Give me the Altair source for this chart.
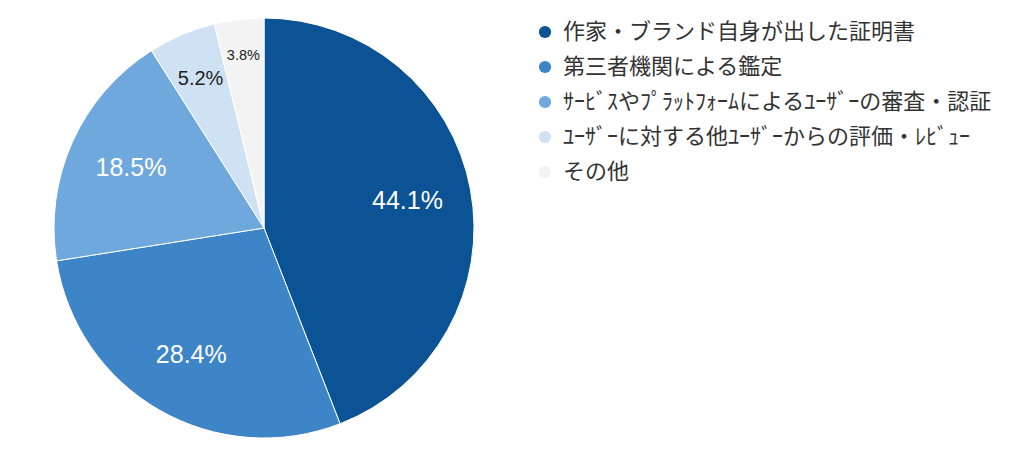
import altair as alt
import pandas as pd

categories = [
    "作家・ブランド自身が出した証明書",
    "第三者機関による鑑定",
    "ｻｰﾋﾞｽやﾌﾟﾗｯﾄﾌｫｰﾑによるﾕｰｻﾞｰの審査・認証",
    "ﾕｰｻﾞｰに対する他ﾕｰｻﾞｰからの評価・ﾚﾋﾞｭｰ",
    "その他",
]
values = [44.1, 28.4, 18.5, 5.2, 3.8]
colors = ["#0b5394", "#3d85c6", "#6fa8dc", "#cfe2f3", "#f3f3f3"]

df = pd.DataFrame({
    "cat": categories,
    "value": values,
    "idx": list(range(len(categories))),
})
df["label"] = df["value"].map(lambda v: f"{v:.1f}%")

CX, CY, R = 256, 220, 210
theta_scale = alt.Scale(domain=[0, 100])

pie = alt.Chart(df).mark_arc(radius=R, stroke="white", strokeWidth=1).encode(
    theta=alt.Theta("value:Q", stack=True, scale=theta_scale),
    order=alt.Order("idx:Q", sort="ascending"),
    x=alt.value(CX), y=alt.value(CY),
    color=alt.Color(
        "cat:N",
        scale=alt.Scale(domain=categories, range=colors),
        sort=categories,
        legend=alt.Legend(
            title=None, orient="none", legendX=526, legendY=13,
            symbolType="circle", symbolSize=150, symbolStrokeWidth=0,
            labelFont="Noto Sans CJK JP", labelFontSize=22, labelColor="#333333",
            rowPadding=13, labelOffset=7, labelLimit=600,
        ),
    ),
)

lab = alt.Chart(df).transform_window(
    cum="sum(value)", sort=[alt.SortField("idx", order="ascending")], frame=[None, 0]
).transform_calculate(
    mid="datum.cum - datum.value / 2"
).encode(
    theta=alt.Theta("mid:Q", stack=None, scale=theta_scale),
    x=alt.value(CX), y=alt.value(CY), text="label:N",
)

big = lab.mark_text(radius=146, font="Liberation Sans", fontSize=25, color="white").transform_filter(
    "datum.value > 10")
mid = lab.mark_text(radius=162, font="Liberation Sans", fontSize=20, color="#222222").transform_filter(
    "datum.value > 4 && datum.value <= 10")
small = lab.mark_text(radius=173, font="Liberation Sans", fontSize=14.5, color="#222222").transform_filter(
    "datum.value <= 4")

chart = alt.layer(pie, big, mid, small).properties(
    width=1000, height=440, padding=0
).configure(background="white").configure_view(stroke=None, strokeWidth=0)

chart.save("out.html", embed_options={"renderer": "svg", "actions": False})
